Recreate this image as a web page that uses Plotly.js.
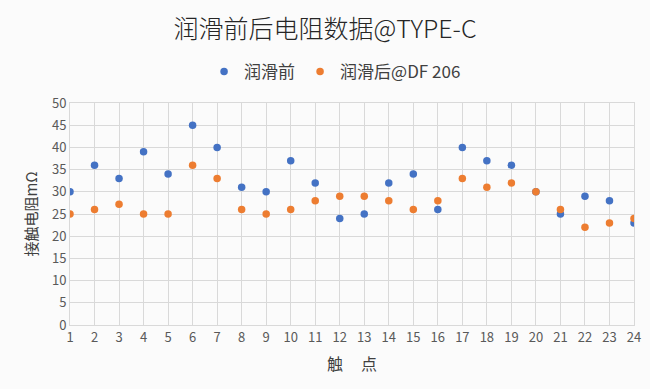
<!DOCTYPE html>
<html>
<head>
<meta charset="utf-8">
<script src="https://cdn.plot.ly/plotly-3.0.1.min.js"></script>
<style>html,body{margin:0;padding:0;background:#fff;}#chart{width:650px;height:389px;}</style>
</head>
<body>
<div id="chart"></div>
<script>
const contacts = [1,2,3,4,5,6,7,8,9,10,11,12,13,14,15,16,17,18,19,20,21,22,23,24];
const before = [30,36,33,39,34,45,40,31,30,37,32,24,25,32,34,26,40,37,36,30,25,29,28,23];
const after = [25,26,27.2,25,25,36,33,26,25,26,28,29,29,28,26,28,33,31,32,30,26,22,23,24];
const seriesNames = ['润滑前','润滑后@DF 206'];
const yTicks = [0,5,10,15,20,25,30,35,40,45,50];

const font = '"Noto Sans CJK SC", "Noto Sans", sans-serif';
const traces = [
  {x: contacts, y: before, name: seriesNames[0], type: 'scatter', mode: 'markers',
   marker: {color: '#4472C4', size: 7.5}},
  {x: contacts, y: after, name: seriesNames[1], type: 'scatter', mode: 'markers',
   marker: {color: '#ED7D31', size: 7.5}}
];
const layout = {
  width: 650, height: 389,
  margin: {l: 70, r: 16, t: 103, b: 64},
  paper_bgcolor: '#fbfbfb', plot_bgcolor: 'rgba(0,0,0,0)',
  font: {family: font, color: '#595959', size: 13},
  title: {text: '润滑前后电阻数据@TYPE-C', x: 0.5, xanchor: 'center', y: 0.925, yanchor: 'middle',
          font: {family: font, size: 25, color: '#262626', weight: 300}},
  showlegend: true,
  legend: {orientation: 'h', x: 0.47, xanchor: 'center', y: 1.14, yanchor: 'middle',
           font: {family: font, size: 17, color: '#404040'}, itemwidth: 30, bgcolor: 'rgba(0,0,0,0)'},
  xaxis: {range: [1, 24], tickvals: contacts, ticktext: contacts.map(String),
          showgrid: true, gridcolor: '#d9d9d9', gridwidth: 1, zeroline: false,
          showline: true, linecolor: '#d9d9d9', mirror: true, ticks: '',
          tickfont: {family: font, size: 13, color: '#595959'},
          title: {text: '触&nbsp;&nbsp;&nbsp;&nbsp;&nbsp;点', font: {family: font, size: 16, color: '#404040'}, standoff: 14}},
  yaxis: {range: [0, 50], tickvals: yTicks, showgrid: true, gridcolor: '#d9d9d9', gridwidth: 1,
          zeroline: false, showline: true, linecolor: '#d9d9d9', mirror: true, ticks: '',
          tickfont: {family: font, size: 13, color: '#595959'},
          title: {text: '接触电阻mΩ', font: {family: font, size: 15, color: '#404040'}, standoff: 10}}
};
Plotly.newPlot('chart', traces, layout, {displayModeBar: false, staticPlot: true});
</script>
</body>
</html>
